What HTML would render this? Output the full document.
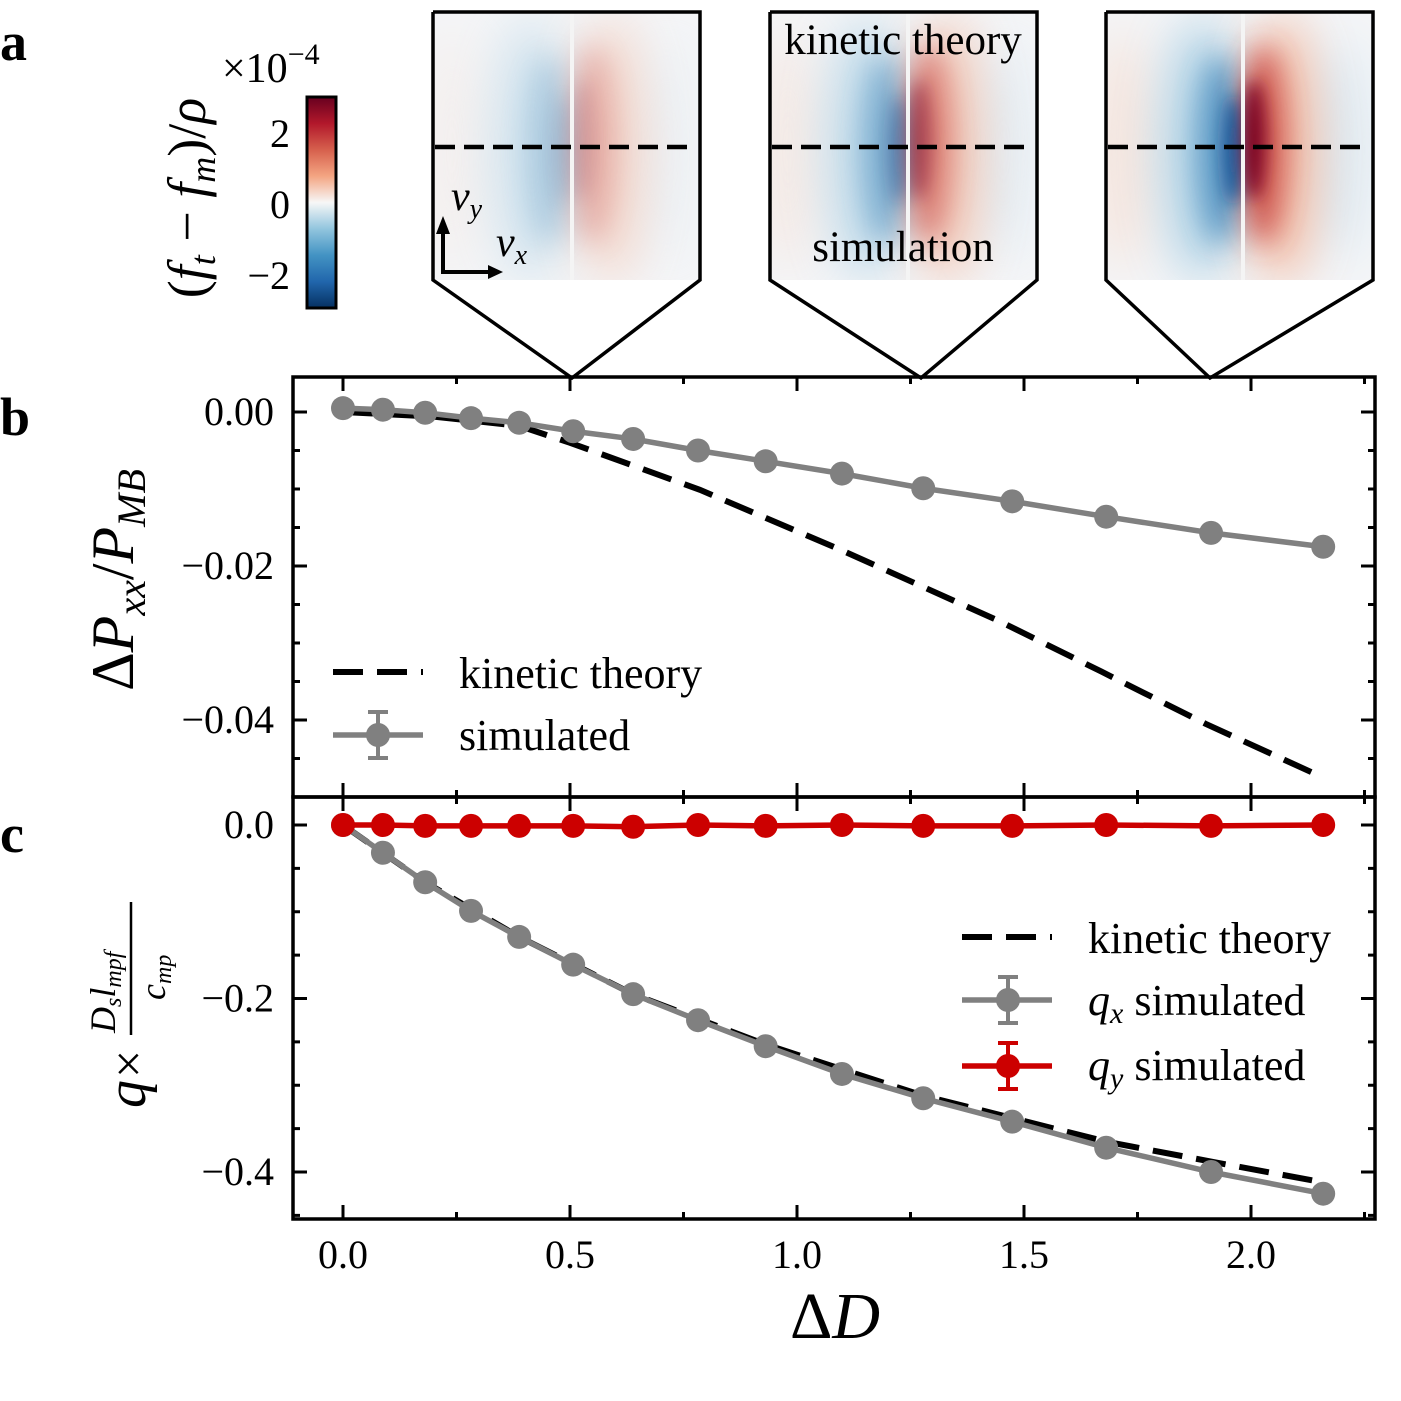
<!DOCTYPE html>
<html><head><meta charset="utf-8"><style>
html,body{margin:0;padding:0;background:#fff}
svg{display:block}
text{font-family:"Liberation Serif",serif;fill:#000}
.it{font-style:italic}
</style></head><body>
<svg id="fig" width="1401" height="1401" viewBox="0 0 1401 1401" xmlns="http://www.w3.org/2000/svg">
<defs>
<linearGradient id="cbg" x1="0" y1="0" x2="0" y2="1">
<stop offset="0" stop-color="#67001f"/><stop offset="0.125" stop-color="#b2182b"/><stop offset="0.25" stop-color="#d6604d"/><stop offset="0.375" stop-color="#f4a582"/><stop offset="0.5" stop-color="#f7f7f7"/><stop offset="0.625" stop-color="#92c5de"/><stop offset="0.75" stop-color="#4393c3"/><stop offset="0.875" stop-color="#2166ac"/><stop offset="1" stop-color="#053061"/>
</linearGradient>
<filter id="bl" x="-80%" y="-50%" width="260%" height="200%"><feGaussianBlur stdDeviation="24"/></filter>
<filter id="bl1" x="-80%" y="-50%" width="260%" height="200%"><feGaussianBlur stdDeviation="14"/></filter>
<filter id="bl2" x="-80%" y="-50%" width="260%" height="200%"><feGaussianBlur stdDeviation="8"/></filter>
<clipPath id="c1"><rect x="433" y="12" width="267" height="268"/></clipPath>
<clipPath id="c2"><rect x="770" y="12" width="267" height="268"/></clipPath>
<clipPath id="c3"><rect x="1106" y="12" width="267" height="268"/></clipPath>
</defs>
<text x="0" y="60" font-size="54" font-weight="bold">a</text>
<text x="0" y="435" font-size="54" font-weight="bold">b</text>
<text x="0" y="852" font-size="54" font-weight="bold">c</text>

<g>
<rect x="307" y="97" width="29" height="211" fill="url(#cbg)" stroke="#000" stroke-width="3"/>
<text x="290" y="147" font-size="40" text-anchor="end">2</text>
<text x="290" y="218" font-size="40" text-anchor="end">0</text>
<text x="290" y="289" font-size="40" text-anchor="end">−2</text>
<text x="222" y="82" font-size="42">×10<tspan dy="-18" font-size="30">−4</tspan></text>
<text transform="translate(205,198) rotate(-90)" font-size="54" text-anchor="middle">(<tspan class="it">f</tspan><tspan class="it" font-size="36" dy="10">t</tspan><tspan dy="-10"> − </tspan><tspan class="it">f</tspan><tspan class="it" font-size="36" dy="10">m</tspan><tspan dy="-10">)/</tspan><tspan class="it">ρ</tspan></text>
</g>
<g id="insets"></g>
<g id="plots"></g>
</svg>
<script>
// ---- data ----
const dD = [0, 0.088, 0.181, 0.282, 0.388, 0.507, 0.639, 0.782, 0.931, 1.099, 1.278, 1.474, 1.681, 1.912, 2.159];
const pSim = [0.0005, 0.0003, -0.0001, -0.0008, -0.0014, -0.0025, -0.0035, -0.0050, -0.0064, -0.0080, -0.0099, -0.0116, -0.0136, -0.0157, -0.0175];
const kinBx = [0, 0.2, 0.388, 0.5, 0.786, 1.1, 1.447, 1.67, 1.9, 2.16];
const kinBy = [0, -0.0006, -0.0018, -0.0040, -0.0101, -0.0180, -0.0272, -0.0337, -0.0405, -0.0475];
const qxSim = [0, -0.032, -0.066, -0.099, -0.129, -0.161, -0.195, -0.225, -0.255, -0.287, -0.315, -0.342, -0.372, -0.400, -0.425];
const qySim = [0, 0, -0.001, -0.001, -0.001, -0.001, -0.002, 0, -0.001, 0, -0.001, -0.001, 0, -0.001, 0];
const kinCx = [0, 0.181, 0.388, 0.639, 0.931, 1.278, 1.681, 1.912, 2.159];
const kinCy = [0, -0.066, -0.129, -0.195, -0.253, -0.312, -0.365, -0.388, -0.412];
const xTicks = [0, 0.5, 1.0, 1.5, 2.0];
const xTickLabels = ["0.0", "0.5", "1.0", "1.5", "2.0"];
const bTicks = [0, -0.02, -0.04];
const bTickLabels = ["0.00", "−0.02", "−0.04"];
const cTicks = [0, -0.2, -0.4];
const cTickLabels = ["0.0", "−0.2", "−0.4"];
const insetStrength = [0.35, 0.7, 1.0];

const NS = "http://www.w3.org/2000/svg";
function mk(tag, attrs, parent){const e=document.createElementNS(NS,tag);for(const k in attrs)e.setAttribute(k,attrs[k]);parent.appendChild(e);return e;}
const L=293,R=1375;
const X=v=>343+(v)*454;
const YB=v=>412+(-v)*7700;
const YC=v=>825+(-v)*867.5;
const plots=document.getElementById('plots');

function frame(top,bot,name){
  const r=mk('rect',{x:L,y:top,width:R-L,height:bot-top,fill:'none',stroke:'#000','stroke-width':3.5},plots);
  
  
  for(let v=-0.25;v<=2.3;v+=0.25){const x=X(v);if(x<L||x>R)continue;const maj=Math.abs(v*2-Math.round(v*2))<1e-6;const len=maj?14:7;
    mk('line',{x1:x,y1:bot,x2:x,y2:bot-len,stroke:'#000','stroke-width':3},plots);
    mk('line',{x1:x,y1:top,x2:x,y2:top+len,stroke:'#000','stroke-width':3},plots);}
}
function yticks(Y,step,majStep,lo,hi){
  for(let v=hi;v>=lo-1e-9;v-=step){const y=Y(v);const maj=Math.abs(v/majStep-Math.round(v/majStep))<1e-6;const len=maj?14:7;
    mk('line',{x1:L,y1:y,x2:L+len,y2:y,stroke:'#000','stroke-width':3},plots);
    mk('line',{x1:R,y1:y,x2:R-len,y2:y,stroke:'#000','stroke-width':3},plots);}
}
function poly(xs,ys,Xf,Yf,attrs,name){
  const p=mk('polyline',Object.assign({points:xs.map((x,i)=>Xf(x)+','+Yf(ys[i])).join(' '),fill:'none'},attrs),plots);
  
  
}
function markers(xs,ys,Yf,col,name){
  xs.forEach((x,i)=>{const c=mk('circle',{cx:X(x),cy:Yf(ys[i]),r:12,fill:col},plots);
    
    });
}
const dash={stroke:'#000','stroke-width':6,'stroke-dasharray':'30,14'};
// panel b
frame(377,797,'panel-b-frame');
yticks(YB,0.005,0.02,-0.05,0.0);
poly(kinBx,kinBy,X,YB,dash,'kinetic-theory-line-b');
poly(dD,pSim,X,YB,{stroke:'#808080','stroke-width':5.5},'simulated-line-b');
markers(dD,pSim,YB,'#808080','simulated-point-b');
bTicks.forEach((v,i)=>{const t=mk('text',{x:274,y:YB(v)+13,'font-size':40,'text-anchor':'end'},plots);t.textContent=bTickLabels[i];
  
  });
// panel c
frame(797,1219,'panel-c-frame');
yticks(YC,0.05,0.2,-0.45,0.0);
poly(kinCx,kinCy,X,YC,dash,'kinetic-theory-line-c');
poly(dD,qxSim,X,YC,{stroke:'#808080','stroke-width':5.5},'qx-simulated-line');
markers(dD,qxSim,YC,'#808080','qx-point');
poly(dD,qySim,X,YC,{stroke:'#cc0000','stroke-width':5.5},'qy-simulated-line');
markers(dD,qySim,YC,'#cc0000','qy-point');
cTicks.forEach((v,i)=>{const t=mk('text',{x:274,y:YC(v)+13,'font-size':40,'text-anchor':'end'},plots);t.textContent=cTickLabels[i];
  
  });
xTicks.forEach((v,i)=>{const t=mk('text',{x:X(v),y:1268,'font-size':40,'text-anchor':'middle'},plots);t.textContent=xTickLabels[i];
  
  });
plots.insertAdjacentHTML('beforeend',`
<text x="835" y="1338" font-size="66" text-anchor="middle">Δ<tspan class="it">D</tspan></text>
<text transform="translate(133,580) rotate(-90)" font-size="60" text-anchor="middle">Δ<tspan class="it">P</tspan><tspan class="it" font-size="40" dy="12">xx</tspan><tspan dy="-12">/</tspan><tspan class="it">P</tspan><tspan class="it" font-size="40" dy="12">MB</tspan></text>
<g transform="translate(145,1000) rotate(-90)">
<text x="-108" y="0" font-size="56" class="it">q</text><text x="-78" y="0" font-size="50">×</text>
<line x1="-35" y1="-14" x2="98" y2="-14" stroke="#000" stroke-width="2.5"/>
<text x="-33" y="-30" font-size="36" class="it">D<tspan font-size="24" dy="6">s</tspan><tspan dy="-6">l</tspan><tspan font-size="24" dy="6">mpf</tspan></text>
<text x="0" y="20" font-size="36" class="it">c<tspan font-size="24" dy="6">mp</tspan></text>
</g>
<g>
<line x1="333" y1="672" x2="423" y2="672" stroke="#000" stroke-width="6" stroke-dasharray="30,14"/>
<text x="459" y="688" font-size="44">kinetic theory</text>
<line x1="333" y1="735" x2="423" y2="735" stroke="#808080" stroke-width="5.5"/>
<line x1="378" y1="712" x2="378" y2="758" stroke="#808080" stroke-width="4"/>
<line x1="368" y1="712" x2="388" y2="712" stroke="#808080" stroke-width="4"/><line x1="368" y1="758" x2="388" y2="758" stroke="#808080" stroke-width="4"/>
<circle cx="378" cy="735" r="12" fill="#808080"/>
<text x="459" y="750" font-size="44">simulated</text>
</g>
<g>
<line x1="962" y1="937" x2="1052" y2="937" stroke="#000" stroke-width="6" stroke-dasharray="30,14"/>
<text x="1088" y="953" font-size="44">kinetic theory</text>
<line x1="962" y1="1000" x2="1052" y2="1000" stroke="#808080" stroke-width="5.5"/>
<line x1="1008" y1="977" x2="1008" y2="1023" stroke="#808080" stroke-width="4"/>
<line x1="998" y1="977" x2="1018" y2="977" stroke="#808080" stroke-width="4"/><line x1="998" y1="1023" x2="1018" y2="1023" stroke="#808080" stroke-width="4"/>
<circle cx="1008" cy="1000" r="12" fill="#808080"/>
<text x="1088" y="1015" font-size="44"><tspan class="it">q</tspan><tspan class="it" font-size="30" dy="8">x</tspan><tspan dy="-8"> simulated</tspan></text>
<line x1="962" y1="1066" x2="1052" y2="1066" stroke="#cc0000" stroke-width="5.5"/>
<line x1="1008" y1="1043" x2="1008" y2="1089" stroke="#cc0000" stroke-width="4"/>
<line x1="998" y1="1043" x2="1018" y2="1043" stroke="#cc0000" stroke-width="4"/><line x1="998" y1="1089" x2="1018" y2="1089" stroke="#cc0000" stroke-width="4"/>
<circle cx="1008" cy="1066" r="12" fill="#cc0000"/>
<text x="1088" y="1080" font-size="44"><tspan class="it">q</tspan><tspan class="it" font-size="30" dy="8">y</tspan><tspan dy="-8"> simulated</tspan></text>
</g>`);
// insets
const ins=document.getElementById('insets');
const ix=[433,770,1106], cxs=[572,908,1243], tip=[572,921,1210];
ix.forEach((x0,i)=>{
  const s=insetStrength[i];const g=mk('g',{'clip-path':`url(#c${i+1})`},ins);
  
  
  mk('rect',{x:x0,y:12,width:267,height:268,fill:'#f4f5f7'},g);
  const c=cxs[i];
  mk('ellipse',{cx:c-120,cy:150,rx:30,ry:120,fill:'#f5e4dc',filter:'url(#bl)',opacity:s},g);
  mk('ellipse',{cx:c+95,cy:150,rx:30,ry:110,fill:'#dbe9f2',filter:'url(#bl)',opacity:s},g);
  mk('ellipse',{cx:c-40,cy:150,rx:40,ry:130,fill:'#9cc8e0',filter:'url(#bl)',opacity:0.6*s+0.2},g);
  mk('ellipse',{cx:c+38,cy:150,rx:36,ry:135,fill:'#f2ab8c',filter:'url(#bl)',opacity:0.6*s+0.2},g);
  mk('ellipse',{cx:c-22,cy:150,rx:22,ry:95,fill:'#3d88be',filter:'url(#bl1)',opacity:0.8*s},g);
  mk('ellipse',{cx:c+20,cy:145,rx:22,ry:100,fill:'#c9403a',filter:'url(#bl1)',opacity:0.85*s},g);
  mk('ellipse',{cx:c-10,cy:150,rx:10,ry:55,fill:'#155aa0',filter:'url(#bl2)',opacity:s*s},g);
  mk('ellipse',{cx:c+11,cy:140,rx:11,ry:60,fill:'#7a0521',filter:'url(#bl2)',opacity:s*s},g);
  mk('rect',{x:c-2,y:12,width:4,height:268,fill:'#f4f4f4'},g);
  const o=mk('polyline',{points:`${x0},12 ${x0+267},12 ${x0+267},280 ${tip[i]},378 ${x0},280 ${x0},12`,fill:'none',stroke:'#000','stroke-width':3.5},ins);
  
  
  const d=mk('line',{x1:x0+2,y1:147,x2:x0+262,y2:147,stroke:'#000','stroke-width':4.5,'stroke-dasharray':'20,9'},ins);
  
  
});
ins.insertAdjacentHTML('beforeend',`
<text x="903" y="54" font-size="43" text-anchor="middle">kinetic theory</text>
<text x="903" y="261" font-size="43" text-anchor="middle">simulation</text>
<g>
<polyline points="443,232 443,272 492,272" fill="none" stroke="#000" stroke-width="4"/>
<polygon points="436,234 450,234 443,216" fill="#000"/><polygon points="488,265 488,279 503,272" fill="#000"/>
<text x="451" y="210" font-size="42" class="it">v<tspan font-size="28" dy="8">y</tspan></text>
<text x="496" y="256" font-size="42" class="it">v<tspan font-size="28" dy="8">x</tspan></text>
</g>`);
</script>
</body></html>
